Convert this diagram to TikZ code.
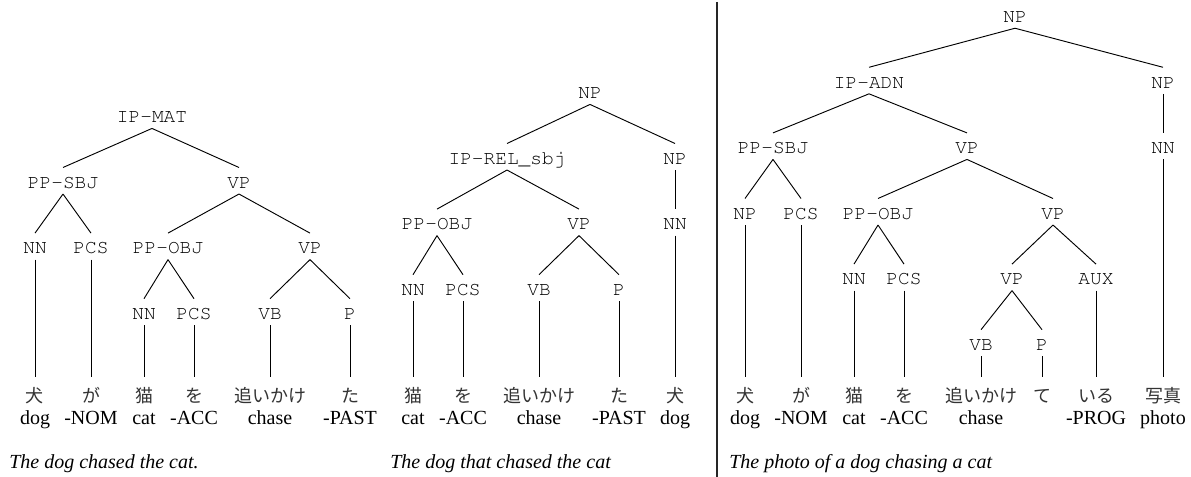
\documentclass[tikz,border=0pt]{standalone}
\usepackage[T1]{fontenc}
\usepackage{fontspec}
\setmainfont{Liberation Serif}
\newfontfamily\jpfont{Noto Sans CJK JP}
% Courier-style typewriter face for the category labels
\newcommand{\catfont}{\fontencoding{T1}\fontfamily{pcr}\fontseries{m}\fontshape{n}\fontsize{14.6}{16}\selectfont}
\tikzset{
  lbl/.style={font=\catfont, anchor=base,
    inner sep=0pt, text height=15.4pt, text depth=4.1pt},
  word/.style={font=\jpfont\fontsize{13.5}{15}\selectfont, anchor=base,
    inner sep=0pt, text height=18.75pt, text depth=0pt, text=black!80},
  gloss/.style={font=\fontsize{15}{17}\selectfont, anchor=base, inner sep=0pt},
  caption/.style={font=\itshape\fontsize{15}{17}\selectfont, anchor=base west, inner sep=0pt},
  edge/.style={line width=0.7pt},
  rule/.style={line width=0.9pt, black!85},
}
\newcommand{\br}[2]{\draw[edge] (#1.south) -- (#2.north);}
\begin{document}
\begin{tikzpicture}[x=0.75pt, y=-0.75pt]
\useasboundingbox (0,0) rectangle (1191,477);

% ---------- Tree 1: main clause ----------
\node[lbl] (a1) at (152,122.7) {IP-MAT};
\node[lbl] (a2) at (63,188.3) {PP-SBJ};
\node[lbl] (a3) at (239,188.3) {VP};
\node[lbl] (a4) at (35,253.9) {NN};
\node[lbl] (a5) at (91,253.9) {PCS};
\node[lbl] (a6) at (168,253.9) {PP-OBJ};
\node[lbl] (a7) at (310,253.9) {VP};
\node[lbl] (a8) at (144,319.5) {NN};
\node[lbl] (a9) at (194,319.5) {PCS};
\node[lbl] (a10) at (270,319.5) {VB};
\node[lbl] (a11) at (350,319.5) {P};

\node[word] (aw1) at (35,402) {犬};
\node[word] (aw2) at (91,402) {が};
\node[word] (aw3) at (144,402) {猫};
\node[word] (aw4) at (194,402) {を};
\node[word] (aw5) at (270,402) {追いかけ};
\node[word] (aw6) at (350,402) {た};
\node[gloss] (ag1) at (35,424) {dog};
\node[gloss] (ag2) at (91,424) {-NOM};
\node[gloss] (ag3) at (144,424) {cat};
\node[gloss] (ag4) at (194,424) {-ACC};
\node[gloss] (ag5) at (270,424) {chase};
\node[gloss] (ag6) at (350,424) {-PAST};

\br{a1}{a2} \br{a1}{a3}
\br{a2}{a4} \br{a2}{a5}
\br{a3}{a6} \br{a3}{a7}
\br{a6}{a8} \br{a6}{a9}
\br{a7}{a10} \br{a7}{a11}
\br{a4}{aw1} \br{a5}{aw2} \br{a8}{aw3} \br{a9}{aw4} \br{a10}{aw5} \br{a11}{aw6}

\node[caption] (acap) at (9,468) {The dog chased the cat.};

% ---------- Tree 2: relative clause ----------
\node[lbl] (b1) at (590,98.7) {NP};
\node[lbl] (b2) at (507,164.3) {IP-REL\_sbj};
\node[lbl] (b3) at (675,164.3) {NP};
\node[lbl] (b4) at (437,229.9) {PP-OBJ};
\node[lbl] (b5) at (579,229.9) {VP};
\node[lbl] (b6) at (675,229.9) {NN};
\node[lbl] (b7) at (413,295.5) {NN};
\node[lbl] (b8) at (463,295.5) {PCS};
\node[lbl] (b9) at (539,295.5) {VB};
\node[lbl] (b10) at (619,295.5) {P};

\node[word] (bw1) at (413,402) {猫};
\node[word] (bw2) at (463,402) {を};
\node[word] (bw3) at (539,402) {追いかけ};
\node[word] (bw4) at (619,402) {た};
\node[word] (bw5) at (675,402) {犬};
\node[gloss] (bg1) at (413,424) {cat};
\node[gloss] (bg2) at (463,424) {-ACC};
\node[gloss] (bg3) at (539,424) {chase};
\node[gloss] (bg4) at (619,424) {-PAST};
\node[gloss] (bg5) at (675,424) {dog};

\br{b1}{b2} \br{b1}{b3}
\br{b2}{b4} \br{b2}{b5}
\br{b3}{b6}
\br{b4}{b7} \br{b4}{b8}
\br{b5}{b9} \br{b5}{b10}
\br{b7}{bw1} \br{b8}{bw2} \br{b9}{bw3} \br{b10}{bw4} \br{b6}{bw5}

\node[caption] (bcap) at (390,468) {The dog that chased the cat};

% ---------- separator ----------
\coordinate (septop) at (717,2);
\coordinate (sepbot) at (717,477);
\draw[rule] (septop) -- (sepbot);

% ---------- Tree 3: adnominal clause ----------
\node[lbl] (c1) at (1015,22.5) {NP};
\node[lbl] (c2) at (869,88.1) {IP-ADN};
\node[lbl] (c3) at (1163,88.1) {NP};
\node[lbl] (c4) at (773,153.7) {PP-SBJ};
\node[lbl] (c5) at (967,153.7) {VP};
\node[lbl] (c6) at (1163,153.7) {NN};
\node[lbl] (c7) at (745,219.3) {NP};
\node[lbl] (c8) at (801,219.3) {PCS};
\node[lbl] (c9) at (878,219.3) {PP-OBJ};
\node[lbl] (c10) at (1053,219.3) {VP};
\node[lbl] (c11) at (854,284.9) {NN};
\node[lbl] (c12) at (904,284.9) {PCS};
\node[lbl] (c13) at (1012,284.9) {VP};
\node[lbl] (c14) at (1096,284.9) {AUX};
\node[lbl] (c15) at (981,350.5) {VB};
\node[lbl] (c16) at (1042,350.5) {P};

\node[word] (cw1) at (745,402) {犬};
\node[word] (cw2) at (801,402) {が};
\node[word] (cw3) at (854,402) {猫};
\node[word] (cw4) at (904,402) {を};
\node[word] (cw5) at (981,402) {追いかけ};
\node[word] (cw6) at (1042,402) {て};
\node[word] (cw7) at (1096,402) {いる};
\node[word] (cw8) at (1163,402) {写真};
\node[gloss] (cg1) at (745,424) {dog};
\node[gloss] (cg2) at (801,424) {-NOM};
\node[gloss] (cg3) at (854,424) {cat};
\node[gloss] (cg4) at (904,424) {-ACC};
\node[gloss] (cg5) at (981,424) {chase};
\node[gloss] (cg7) at (1096,424) {-PROG};
\node[gloss] (cg8) at (1163,424) {photo};

\br{c1}{c2} \br{c1}{c3}
\br{c2}{c4} \br{c2}{c5}
\br{c3}{c6}
\br{c4}{c7} \br{c4}{c8}
\br{c5}{c9} \br{c5}{c10}
\br{c9}{c11} \br{c9}{c12}
\br{c10}{c13} \br{c10}{c14}
\br{c13}{c15} \br{c13}{c16}
\br{c7}{cw1} \br{c8}{cw2} \br{c11}{cw3} \br{c12}{cw4}
\br{c15}{cw5} \br{c16}{cw6} \br{c14}{cw7} \br{c6}{cw8}

\node[caption] (ccap) at (729,468) {The photo of a dog chasing a cat};
\end{tikzpicture}
\end{document}
